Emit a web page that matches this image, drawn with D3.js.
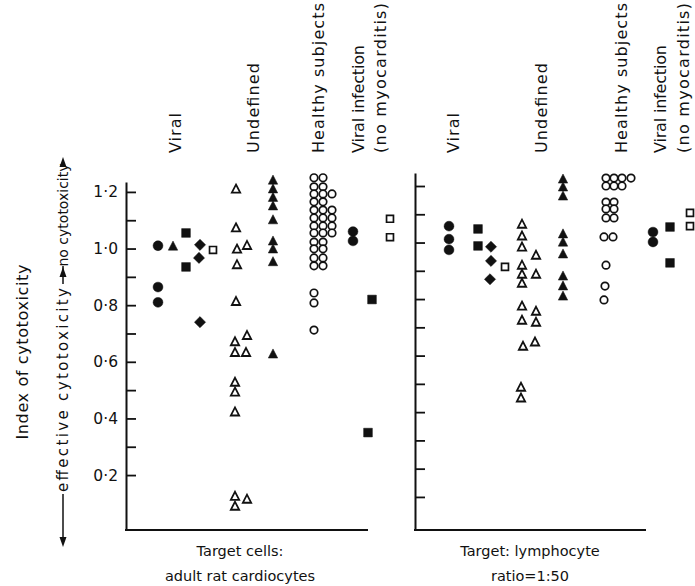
<!DOCTYPE html>
<html><head><meta charset="utf-8">
<script src="https://cdn.jsdelivr.net/npm/d3@7/dist/d3.min.js"></script>
<style>body{margin:0;background:#fff}svg{display:block}text{font-family:"DejaVu Sans",sans-serif;fill:#111}</style>
</head><body>
<script>
// ---------- DATA ----------
const categoryLabels = [["Viral"], ["Undefined"], ["Healthy subjects"], ["Viral infection", "(no myocarditis)"]];
const panelTitles = [["Target cells:", "adult rat cardiocytes"], ["Target: lymphocyte", "ratio=1:50"]];
const leftTicks = [1.2, 1.1, 1.0, 0.9, 0.8, 0.7, 0.6, 0.5, 0.4, 0.3, 0.2];
const leftTickLabels = ["1·2", "", "1·0", "", "0·8", "", "0·6", "", "0·4", "", "0·2"];
const rightTicks = [1.2, 1.1, 1.0, 0.9, 0.8, 0.7, 0.6, 0.5, 0.4, 0.3, 0.2, 0.1];

// points: [column position, index of cytotoxicity]
// Left panel (adult rat cardiocytes)
const L_viralCircle = [[3.2, 1.01], [3.2, 0.864], [3.2, 0.81]];
const L_viralTriangle = [[4.7, 1.005]];
const L_viralSquare = [[6.0, 1.055], [6.0, 0.935]];
const L_viralDiamond = [[7.4, 1.013], [7.3, 0.967], [7.4, 0.74]];
const L_viralOpenSquare = [[8.7, 0.995]];
const L_undefOpenTri = [[11.0, 1.207], [11.0, 1.07], [11.1, 0.995], [12.1, 1.008], [11.1, 0.94], [11.0, 0.81],
  [12.1, 0.69], [10.9, 0.668], [10.9, 0.63], [12.0, 0.63], [10.9, 0.525], [10.9, 0.49], [10.9, 0.42],
  [10.9, 0.122], [12.1, 0.112], [10.9, 0.087]];
const L_undefFilledTri = [[14.7, 1.238], [14.7, 1.207], [14.7, 1.177], [14.7, 1.147], [14.7, 1.098],
  [14.7, 1.023], [14.7, 0.995], [14.7, 0.95], [14.7, 0.624]];
const L_healthyOpenCircle = [
  [18.8, 1.25], [18.8, 1.218], [18.8, 1.193], [18.8, 1.165], [18.8, 1.136], [18.8, 1.108], [18.8, 1.08], [18.8, 1.055], [18.8, 1.023], [18.8, 0.999], [18.8, 0.967], [18.8, 0.939],
  [19.7, 1.25], [19.7, 1.218], [19.7, 1.193], [19.7, 1.165], [19.7, 1.136], [19.7, 1.108], [19.7, 1.08], [19.7, 1.055], [19.7, 1.023], [19.7, 0.999], [19.7, 0.967], [19.7, 0.939],
  [20.6, 1.193], [20.6, 1.136], [20.6, 1.108], [20.6, 1.08], [20.6, 1.055],
  [18.8, 0.843], [18.8, 0.808], [18.8, 0.712]];
const L_infCircle = [[22.7, 1.06], [22.7, 1.027]];
const L_infSquare = [[24.6, 0.82], [24.2, 0.35]];
const L_infOpenSquare = [[26.4, 1.105], [26.4, 1.04]];

// Right panel (lymphocyte ratio 1:50)
const R_viralCircle = [[3.4, 1.058], [3.4, 1.012], [3.4, 0.974]];
const R_viralSquare = [[6.3, 1.048], [6.3, 0.988]];
const R_viralDiamond = [[7.6, 0.985], [7.6, 0.935], [7.5, 0.87]];
const R_viralOpenSquare = [[9.0, 0.914]];
const R_undefOpenTri = [[10.7, 1.062], [10.7, 1.02], [10.7, 0.981], [10.7, 0.917], [10.7, 0.885], [10.7, 0.853],
  [10.7, 0.772], [10.7, 0.722], [10.8, 0.63], [10.6, 0.485], [10.6, 0.447],
  [12.1, 0.952], [12.1, 0.885], [12.1, 0.754], [12.1, 0.715], [12.0, 0.645]];
const R_undefFilledTri = [[14.8, 1.221], [14.8, 1.193], [14.8, 1.161], [14.8, 1.027], [14.8, 0.998], [14.8, 0.956],
  [14.8, 0.878], [14.8, 0.843], [14.8, 0.807]];
const R_healthyOpenCircle = [
  [19.1, 1.228], [19.9, 1.228], [20.7, 1.228], [21.6, 1.228],
  [19.1, 1.2], [19.9, 1.2], [20.7, 1.2],
  [19.1, 1.143], [19.9, 1.143], [19.1, 1.119], [19.9, 1.119], [19.1, 1.087], [19.9, 1.087],
  [18.9, 1.02], [19.8, 1.02], [19.1, 0.92], [19.0, 0.846], [18.9, 0.797]];
const R_infCircle = [[23.8, 1.037], [23.8, 1.002]];
const R_infSquare = [[25.5, 1.055], [25.5, 0.928]];
const R_infOpenSquare = [[27.5, 1.105], [27.5, 1.058]];

// ---------- LAYOUT ----------
const W = 695, H = 586;
const svg = d3.select("body").append("svg").attr("width", W).attr("height", H);
const catLen = [[40], [90], [150], [108, 150]];

const panels = [
  { x: d3.scaleLinear().domain([0, 24.2]).range([126, 368]),
    y: d3.scaleLinear().domain([1.235, 0.006]).range([182, 530]),
    ticks: leftTicks, labels: leftTickLabels,
    catX: [[182], [260], [325], [365, 387]], titleX: 240,
    series: [
      [L_viralCircle, "circle", true], [L_viralTriangle, "triangle", true], [L_viralSquare, "square", true],
      [L_viralDiamond, "diamond", true], [L_viralOpenSquare, "square", false],
      [L_undefOpenTri, "triangle", false], [L_undefFilledTri, "triangle", true],
      [L_healthyOpenCircle, "circle", false],
      [L_infCircle, "circle", true], [L_infSquare, "square", true], [L_infOpenSquare, "square", false]] },
  { x: d3.scaleLinear().domain([0, 23.1]).range([415, 646]),
    y: d3.scaleLinear().domain([1.246, -0.017]).range([173, 530]),
    ticks: rightTicks, labels: null,
    catX: [[460], [548], [628], [667, 690]], titleX: 530,
    series: [
      [R_viralCircle, "circle", true], [R_viralSquare, "square", true], [R_viralDiamond, "diamond", true],
      [R_viralOpenSquare, "square", false],
      [R_undefOpenTri, "triangle", false], [R_undefFilledTri, "triangle", true],
      [R_healthyOpenCircle, "circle", false],
      [R_infCircle, "circle", true], [R_infSquare, "square", true], [R_infOpenSquare, "square", false]] }
];

function symbolPath(shape, filled) {
  if (shape === "circle") return d3.symbol(d3.symbolCircle, filled ? 76 : 44)();
  if (shape === "square") return d3.symbol(d3.symbolSquare, filled ? 76 : 48)();
  if (shape === "diamond") return d3.symbol(d3.symbolSquare, 62)();
  return d3.symbol(d3.symbolTriangle, filled ? 38 : 30)();
}

panels.forEach((p, pi) => {
  const g = svg.append("g");
  const x0 = p.x.range()[0];
  const ax = d3.axisLeft(p.y).tickValues(p.ticks).tickSizeInner(-10).tickSizeOuter(0).tickPadding(8)
    .tickFormat((d, i) => p.labels ? p.labels[i] : "");
  const ag = g.append("g").attr("transform", `translate(${x0},0)`).call(ax);
  ag.select(".domain").attr("stroke", "#111").attr("stroke-width", 2);
  ag.selectAll(".tick line").attr("stroke", "#111").attr("stroke-width", 1.8);
  ag.selectAll(".tick text").attr("font-size", 15.5).attr("fill", "#111")
    .style("font-family", '"DejaVu Sans",sans-serif');
  g.append("line").attr("x1", p.x.range()[0] - 1).attr("x2", p.x.range()[1])
    .attr("y1", p.y.range()[1]).attr("y2", p.y.range()[1]).attr("stroke", "#111").attr("stroke-width", 2);

  p.series.forEach(([data, shape, filled]) => {
    g.selectAll(null).data(data).enter().append("path")
      .attr("d", symbolPath(shape, filled))
      .attr("transform", d => `translate(${p.x(d[0])},${p.y(d[1])})` +
        (shape === "diamond" ? " rotate(45)" : "") + (shape === "triangle" ? " scale(1,1.12)" : ""))
      .attr("fill", filled ? "#111" : "#fff")
      .attr("stroke", "#111")
      .attr("stroke-width", filled ? 0.5 : 1.7);
  });

  categoryLabels.forEach((lines, ci) => {
    lines.forEach((t, li) => {
      g.append("text").attr("transform", `translate(${p.catX[ci][li]},153) rotate(-90)`)
        .attr("font-size", 16).attr("text-anchor", "start").attr("dy", "-0.05em")
        .attr("textLength", catLen[ci][li]).attr("lengthAdjust", "spacing").text(t);
    });
  });

  panelTitles[pi].forEach((t, li) => {
    g.append("text").attr("x", p.titleX).attr("y", 556 + li * 25).attr("text-anchor", "middle")
      .attr("font-size", 14.5).text(t);
  });
});

// y-axis titles
svg.append("text").attr("transform", "translate(28,352) rotate(-90)").attr("text-anchor", "middle")
  .attr("font-size", 16).attr("textLength", 175).attr("lengthAdjust", "spacing").text("Index of cytotoxicity");

const ax0 = 63;
const lab = svg.append("g");
function arrowUp(y) {
  lab.append("path").attr("d", `M${ax0},${y} L${ax0 - 3.5},${y + 10} L${ax0 + 3.5},${y + 10} Z`).attr("fill", "#111");
}
function arrowDown(y) {
  lab.append("path").attr("d", `M${ax0},${y} L${ax0 - 3.5},${y - 10} L${ax0 + 3.5},${y - 10} Z`).attr("fill", "#111");
}
function seg(y1, y2) {
  lab.append("line").attr("x1", ax0).attr("x2", ax0).attr("y1", y1).attr("y2", y2).attr("stroke", "#111").attr("stroke-width", 1.5);
}
arrowUp(157); seg(164, 166);
lab.append("text").attr("transform", `translate(${ax0 + 5},215) rotate(-90)`).attr("text-anchor", "middle")
  .attr("font-size", 14).text("no cytotoxicity");
seg(266, 284); arrowUp(267);
lab.append("text").attr("transform", `translate(${ax0 + 5},390) rotate(-90)`).attr("text-anchor", "middle")
  .attr("font-size", 15).attr("textLength", 204).attr("lengthAdjust", "spacing").text("effective cytotoxicity");
seg(494, 540); arrowDown(547);
</script>
</body></html>
